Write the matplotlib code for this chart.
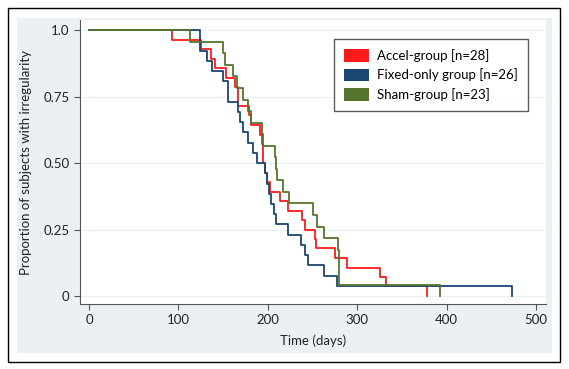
import matplotlib
matplotlib.use('Agg')
import matplotlib.pyplot as plt
from matplotlib.patches import Rectangle, Patch

plt.rcParams['font.family'] = ['Lato', 'DejaVu Sans']

# event times (days) and survival after each event
accel_t = [0, 93, 125, 136, 141, 153, 163, 167, 179, 181, 191, 193, 195, 197, 199, 202,
           214, 223, 238, 241, 253, 254, 275, 288, 325, 332, 378]
accel_s = [1.0, 0.964, 0.929, 0.893, 0.857, 0.821, 0.786, 0.714, 0.679, 0.643, 0.607, 0.571,
           0.500, 0.464, 0.429, 0.393, 0.357, 0.321, 0.286, 0.250, 0.214, 0.179, 0.143,
           0.107, 0.071, 0.036, 0.0]

fixed_t = [0, 124, 132, 138, 150, 155, 167, 169, 172, 178, 183, 188, 197, 199, 201, 204,
           207, 209, 223, 237, 241, 245, 263, 277, 473]
fixed_s = [1.0, 0.923, 0.885, 0.846, 0.808, 0.731, 0.692, 0.654, 0.615, 0.577, 0.538, 0.500,
           0.462, 0.423, 0.385, 0.346, 0.308, 0.269, 0.231, 0.192, 0.154, 0.115, 0.077,
           0.038, 0.0]

sham_t = [0, 113, 150, 152, 161, 166, 172, 178, 181, 193, 195, 208, 209, 210, 217, 224,
          250, 255, 263, 278, 280, 393]
sham_s = [1.0, 0.957, 0.913, 0.870, 0.826, 0.783, 0.739, 0.696, 0.652, 0.609, 0.565, 0.522,
          0.478, 0.435, 0.391, 0.348, 0.304, 0.261, 0.217, 0.174, 0.043, 0.0]

labels = ['Accel-group [n=28]', 'Fixed-only group [n=26]', 'Sham-group [n=23]']
colors = ['#ff1a1a', '#1a476f', '#55752f']

fig = plt.figure(figsize=(5.69, 3.69), dpi=100)
fig.patch.set_facecolor('white')

# outer frame and light panel (behind the axes)
fig.patches.append(Rectangle((0.014, 0.019), 0.970, 0.959, transform=fig.transFigure,
                             facecolor='white', edgecolor='black', linewidth=1.0, zorder=-2))
fig.patches.append(Rectangle((0.030, 0.043), 0.940, 0.908, transform=fig.transFigure,
                             facecolor='#eaf0f3', edgecolor='none', zorder=-1))

ax = fig.add_axes([0.1406, 0.1762, 0.819, 0.7696])
ax.set_facecolor('white')

for t, s, c in zip([accel_t, fixed_t, sham_t], [accel_s, fixed_s, sham_s], colors):
    ax.step(t, s, where='post', color=c, linewidth=1.3)

ax.set_xlim(-10, 511)
ax.set_ylim(-0.03, 1.038)
ax.set_xticks([0, 100, 200, 300, 400, 500])
ax.set_yticks([0, 0.25, 0.5, 0.75, 1.0])
ax.set_yticklabels(['0', '0.25', '0.50', '0.75', '1.0'])
ax.yaxis.grid(True, color='#e6eff1', linewidth=0.8)
ax.set_axisbelow(True)

for side in ['top', 'right']:
    ax.spines[side].set_visible(False)
for side in ['left', 'bottom']:
    ax.spines[side].set_color('#555555')
    ax.spines[side].set_linewidth(0.8)
ax.tick_params(colors='#555555', labelcolor='#222222', labelsize=9.5, length=4, width=0.8)

ax.set_xlabel('Time (days)', fontsize=9.5, color='#222222', labelpad=6)
ax.set_ylabel('Proportion of subjects with irregularity', fontsize=9.5, color='#222222', labelpad=8)

handles = [Patch(facecolor=c, edgecolor='none') for c in colors]
leg = ax.legend(handles, labels, loc='upper right', bbox_to_anchor=(0.961, 0.933),
                borderaxespad=0, fontsize=9.5, frameon=True, fancybox=False,
                handlelength=1.9, handleheight=1.1, borderpad=0.75, labelspacing=0.5,
                handletextpad=0.6)
leg.get_frame().set_edgecolor('#333333')
leg.get_frame().set_linewidth(1.0)

fig.savefig('out.png', dpi=100)
